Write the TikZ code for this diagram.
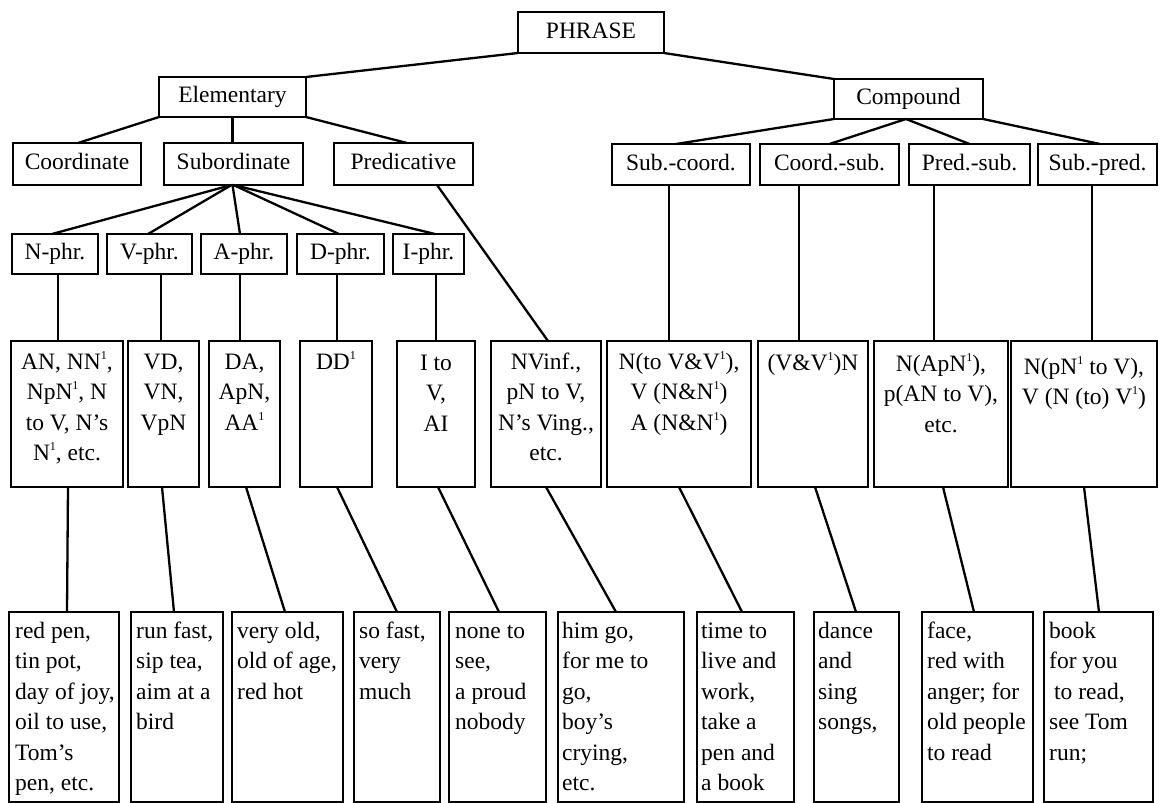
\documentclass[tikz,border=0pt]{standalone}
\usepackage{fontspec}
\setmainfont{Liberation Serif}
\usetikzlibrary{calc}
% small raised figure one
\newcommand{\one}{\raisebox{0.42em}{\fontsize{12}{12}\selectfont 1}}
% strut fixing the height of a first line
\newcommand{\fl}{\rule{0pt}{20pt}}
\tikzset{
  box/.style={draw, line width=2.6pt, rectangle, inner sep=0pt, outer sep=0pt},
  tag/.style={font=\fontsize{23.5}{30.5}\selectfont, inner sep=0pt, align=center,
    text height=15pt, text depth=4pt},
  cell/.style={font=\fontsize{23.5}{30.5}\selectfont, inner sep=0pt, align=center, anchor=north},
  leaf/.style={font=\fontsize{23.5}{30.5}\selectfont, inner sep=0pt, align=left, anchor=north west},
  link/.style={line width=2.3pt, line cap=round}
}
\begin{document}
\begin{tikzpicture}[x=1pt,y=-1pt]
\useasboundingbox (0,0) rectangle (1160,803);

% ---- top levels ----
\node[box, tag, minimum width=146, minimum height=41] (phrase) at (591,32.5) {PHRASE};
\node[box, tag, minimum width=147, minimum height=40] (elem) at (232.5,97) {Elementary};
\node[box, tag, minimum width=149, minimum height=40] (comp) at (908.5,99) {Compound};

\node[box, tag, minimum width=128, minimum height=42] (coord) at (77,164) {Coordinate};
\node[box, tag, minimum width=139, minimum height=42] (subord) at (233.5,164) {Subordinate};
\node[box, tag, minimum width=139, minimum height=42] (pred) at (403.5,164) {Predicative};

\node[box, tag, minimum width=138, minimum height=41] (subco) at (681,164.5) {Sub.-coord.};
\node[box, tag, minimum width=139, minimum height=41] (cosub) at (829.5,164.5) {Coord.-sub.};
\node[box, tag, minimum width=121, minimum height=41] (prsub) at (969.5,164.5) {Pred.-sub.};
\node[box, tag, minimum width=119, minimum height=41] (subpr) at (1097.5,164.5) {Sub.-pred.};

% ---- phrase kinds ----
\node[box, tag, minimum width=86, minimum height=40] (nphr) at (55,254) {N-phr.};
\node[box, tag, minimum width=85, minimum height=40] (vphr) at (149.5,254) {V-phr.};
\node[box, tag, minimum width=86, minimum height=40] (aphr) at (244,254) {A-phr.};
\node[box, tag, minimum width=87, minimum height=40] (dphr) at (340.5,254) {D-phr.};
\node[box, tag, minimum width=71, minimum height=40] (iphr) at (428.5,254) {I-phr.};

% ---- patterns ----
\node[box, minimum width=112, minimum height=146] (m1) at (67,414) {};
\node[box, minimum width=71, minimum height=146] (m2) at (163.5,414) {};
\node[box, minimum width=71, minimum height=146] (m3) at (244.5,414) {};
\node[box, minimum width=72, minimum height=146] (m4) at (336,414) {};
\node[box, minimum width=78, minimum height=146] (m5) at (436,414) {};
\node[box, minimum width=110, minimum height=146] (m6) at (546,414) {};
\node[box, minimum width=144, minimum height=146] (m7) at (679,414) {};
\node[box, minimum width=110, minimum height=146] (m8) at (813,414) {};
\node[box, minimum width=134, minimum height=146] (m9) at (941,414) {};
\node[box, minimum width=146, minimum height=146] (m10) at (1084,414) {};

\node[cell] (m1t) at ([yshift=-8]m1.north) {\fl AN, NN\one,\\NpN\one, N\\to V, N’s\\N\one, etc.};
\node[cell] (m2t) at ([yshift=-8]m2.north) {\fl VD,\\VN,\\VpN};
\node[cell] (m3t) at ([yshift=-8]m3.north) {\fl DA,\\ApN,\\AA\one};
\node[cell] (m4t) at ([yshift=-8]m4.north) {\fl DD\one};
\node[cell] (m5t) at ([yshift=-9]m5.north) {\fl I to\\V,\\AI};
\node[cell] (m6t) at ([yshift=-8]m6.north) {\fl NVinf.,\\pN to V,\\N’s Ving.,\\etc.};
\node[cell] (m7t) at ([yshift=-8]m7.north) {\fl N(to V\&V\one),\\V (N\&N\one)\\A (N\&N\one)};
\node[cell] (m8t) at ([yshift=-9]m8.north) {\fl (V\&V\one)N};
\node[cell] (m9t) at ([yshift=-10]m9.north) {\fl N(ApN\one),\\p(AN to V),\\etc.};
\node[cell] (m10t) at ([yshift=-13]m10.north) {\fl N(pN\one{} to V),\\V (N (to) V\one)};

% ---- examples ----
\node[box, minimum width=110, minimum height=190] (b1) at (64,707) {};
\node[box, minimum width=92, minimum height=190] (b2) at (177,707) {};
\node[box, minimum width=111, minimum height=190] (b3) at (287.5,707) {};
\node[box, minimum width=86, minimum height=190] (b4) at (397,707) {};
\node[box, minimum width=97, minimum height=190] (b5) at (497.5,707) {};
\node[box, minimum width=126, minimum height=190] (b6) at (621,707) {};
\node[box, minimum width=97, minimum height=190] (b7) at (745.5,707) {};
\node[box, minimum width=85, minimum height=190] (b8) at (856.5,707) {};
\node[box, minimum width=111, minimum height=190] (b9) at (977.5,707) {};
\node[box, minimum width=109, minimum height=190] (b10) at (1098.5,707) {};

\node[leaf] (b1t) at ([xshift=6,yshift=-6]b1.north west) {\fl red pen,\\tin pot,\\day of joy,\\oil to use,\\Tom’s\\pen, etc.};
\node[leaf] (b2t) at ([xshift=5,yshift=-6]b2.north west) {\fl run fast,\\sip tea,\\aim at a\\bird};
\node[leaf] (b3t) at ([xshift=5,yshift=-6]b3.north west) {\fl very old,\\old of age,\\red hot};
\node[leaf] (b4t) at ([xshift=5,yshift=-6]b4.north west) {\fl so fast,\\very\\much};
\node[leaf] (b5t) at ([xshift=6,yshift=-6]b5.north west) {\fl none to\\see,\\a proud\\nobody};
\node[leaf] (b6t) at ([xshift=4,yshift=-6]b6.north west) {\fl him go,\\for me to\\go,\\boy’s\\crying,\\etc.};
\node[leaf] (b7t) at ([xshift=4,yshift=-6]b7.north west) {\fl time to\\live and\\work,\\take a\\pen and\\a book};
\node[leaf] (b8t) at ([xshift=4,yshift=-6]b8.north west) {\fl dance\\and\\sing\\songs,};
\node[leaf] (b9t) at ([xshift=5,yshift=-6]b9.north west) {\fl face,\\red with\\anger; for\\old people\\to read};
\node[leaf] (b10t) at ([xshift=5,yshift=-6]b10.north west) {\fl book\\for you\\\hspace{5pt}to read,\\see Tom\\run;};

% ---- connectors: top levels ----
\draw[link] (phrase.south west) -- (elem.north east);
\draw[link] (phrase.south east) -- (comp.north west);
\draw[link] (elem.south west) -- ([xshift=1]coord.north);
\draw[link] (elem.south) -- (elem.south |- subord.north);
\draw[link] (elem.south east) -- ([xshift=3.5]pred.north);
\draw[link] (comp.south west) -- ([xshift=-5]subco.north);
\draw[link] ([xshift=-2.5]comp.south) -- (cosub.north);
\draw[link] ([xshift=-2.5]comp.south) -- (prsub.north);
\draw[link] (comp.south east) -- ([xshift=2.5]subpr.north);

% ---- connectors: subordinate kinds ----
\draw[link] ([xshift=-2]subord.south) -- ([xshift=-3]nphr.north);
\draw[link] ([xshift=-2]subord.south) -- ([xshift=-1.5]vphr.north);
\draw[link] ([xshift=-1]subord.south) -- ([xshift=-4]aphr.north);
\draw[link] ([xshift=0]subord.south) -- ([xshift=-1.5]dphr.north);
\draw[link] ([xshift=0]subord.south) -- ([xshift=6.5]iphr.north);
\draw[link] ([xshift=33.5]pred.south) -- ([xshift=2]m6.north);

% ---- connectors: kinds to patterns ----
\draw[link] ([xshift=3]nphr.south) -- ([xshift=3]nphr.south |- m1.north);
\draw[link] ([xshift=11.5]vphr.south) -- ([xshift=11.5]vphr.south |- m2.north);
\draw[link] ([xshift=-4]aphr.south) -- ([xshift=-4]aphr.south |- m3.north);
\draw[link] ([xshift=-3.5]dphr.south) -- ([xshift=-3.5]dphr.south |- m4.north);
\draw[link] ([xshift=7.5]iphr.south) -- ([xshift=7.5]iphr.south |- m5.north);
\draw[link] ([xshift=-12]subco.south) -- ([xshift=-12]subco.south |- m7.north);
\draw[link] ([xshift=-30.5]cosub.south) -- ([xshift=-30.5]cosub.south |- m8.north);
\draw[link] ([xshift=-35.5]prsub.south) -- ([xshift=-35.5]prsub.south |- m9.north);
\draw[link] ([xshift=-5.5]subpr.south) -- ([xshift=-5.5]subpr.south |- m10.north);

% ---- connectors: patterns to examples ----
\draw[link] ([xshift=1]m1.south) -- ([xshift=3]b1.north);
\draw[link] ([xshift=-1.5]m2.south) -- ([xshift=-3]b2.north);
\draw[link] ([xshift=1.5]m3.south) -- ([xshift=-2.5]b3.north);
\draw[link] ([xshift=1]m4.south) -- (b4.north);
\draw[link] ([xshift=2]m5.south) -- ([xshift=1.5]b5.north);
\draw[link] (m6.south) -- ([xshift=-5]b6.north);
\draw[link] (m7.south) -- ([xshift=-3.5]b7.north);
\draw[link] ([xshift=2]m8.south) -- ([xshift=-0.5]b8.north);
\draw[link] ([xshift=2]m9.south) -- ([xshift=-3.5]b9.north);
\draw[link] (m10.south) -- ([xshift=0.5]b10.north);
\end{tikzpicture}
\end{document}
